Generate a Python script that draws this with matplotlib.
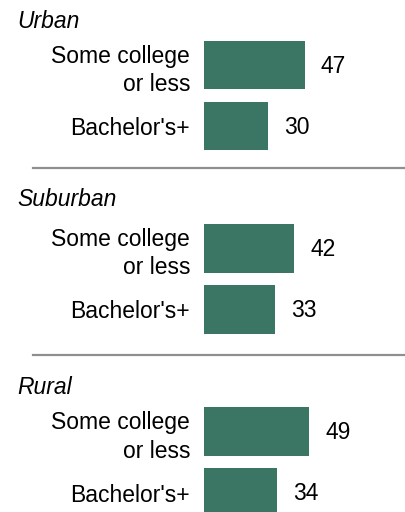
import matplotlib.pyplot as plt
from matplotlib.lines import Line2D

plt.rcParams['font.family'] = ['Liberation Sans', 'DejaVu Sans']

groups = ['Urban', 'Suburban', 'Rural']
education = ['Some college\nor less', "Bachelor's+"]
values = [
    [47, 30],  # Urban
    [42, 33],  # Suburban
    [49, 34],  # Rural
]

W, H = 406, 512
bar_color = '#3b7664'
rule_color = '#8f8f8f'

fig = plt.figure(figsize=(W / 100, H / 100), dpi=100)

# layout in pixels from the top of the figure
left_px = 204
px_per_unit = 2.145
row_px = 61
group_step = 183.3
first_center = 95.5
title_base = [28, 206, 394]
rules = [167.5, 354.5]

for g, name in enumerate(groups):
    center = first_center + g * group_step
    top = center - row_px
    ax = fig.add_axes([left_px / W, 1 - (top + 2 * row_px) / H,
                       (W - left_px) / W, 2 * row_px / H])
    ax.barh(range(len(education)), values[g], height=0.795, color=bar_color)
    ax.set_xlim(0, (W - left_px) / px_per_unit)
    ax.set_ylim(1.5, -0.5)
    ax.set_yticks(range(len(education)), education, fontsize=16.5,
                  linespacing=1.3)
    ax.tick_params(axis='y', length=0, pad=10)
    ax.set_xticks([])
    for s in ax.spines.values():
        s.set_visible(False)
    for i, v in enumerate(values[g]):
        ax.annotate(str(v), (v, i), xytext=(11.5, -1), textcoords='offset points',
                    va='center', ha='left', fontsize=16.5)
    fig.text(17 / W, 1 - title_base[g] / H, name, style='italic',
             fontsize=16.5, va='baseline', ha='left')

for y in rules:
    fig.add_artist(Line2D([33 / W, 1], [1 - y / H] * 2, lw=1.6,
                          color=rule_color, transform=fig.transFigure))

fig.savefig('out.png', dpi=100)
